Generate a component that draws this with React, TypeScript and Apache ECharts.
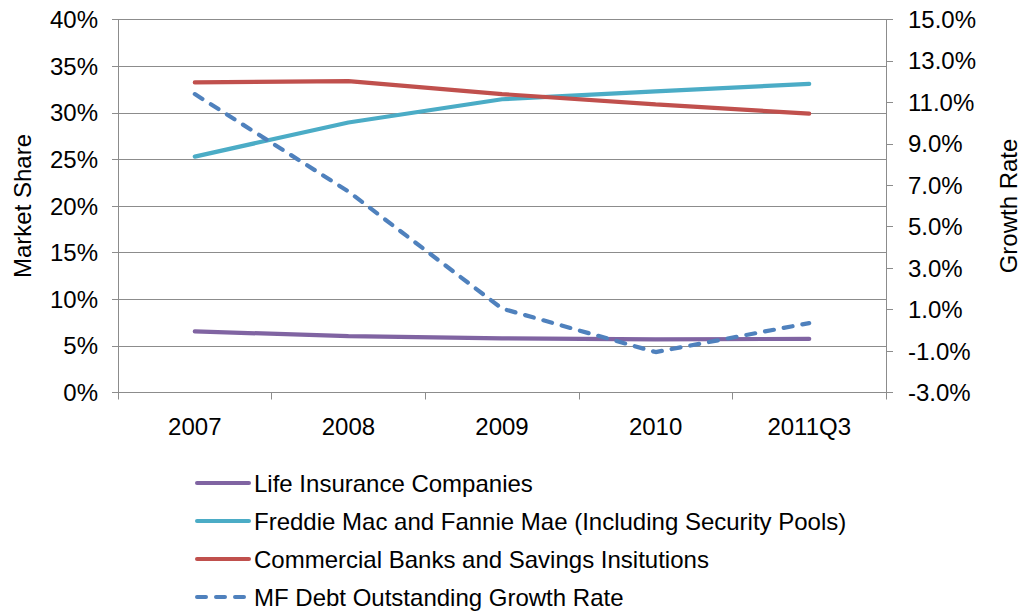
import React, { useEffect, useRef } from "react";
import * as echarts from "echarts";

const categories = ["2007", "2008", "2009", "2010", "2011Q3"];
const lifeInsurance = [6.55, 6.05, 5.8, 5.7, 5.75];
const freddieFannie = [25.3, 28.95, 31.45, 32.3, 33.1];
const commercialBanks = [33.25, 33.4, 32.0, 30.9, 29.9];
const growthRate = [11.4, 6.7, 1.05, -1.05, 0.35];

const seriesNames = [
  "Life Insurance Companies",
  "Freddie Mac and Fannie Mae (Including Security Pools)",
  "Commercial Banks and Savings Insitutions",
  "MF Debt Outstanding Growth Rate",
];
const colors = ["#8064A2", "#4BACC6", "#C0504D", "#4F81BD"];

const FONT = "'Liberation Sans', Arial, sans-serif";
const GRID_COLOR = "#8C8C8C";
const FS = 24;

export default function App() {
  const ref = useRef<HTMLDivElement>(null);
  useEffect(() => {
    if (!ref.current) return;
    const chart = echarts.init(ref.current, undefined, { renderer: "svg" });
    const lineSeries = (i: number, data: number[], yAxisIndex: number, dashed = false) => ({
      name: seriesNames[i],
      type: "line",
      data,
      yAxisIndex,
      symbol: "none",
      smooth: false,
      lineStyle: {
        color: colors[i],
        width: 4.2,
        type: dashed ? [9, 10] : "solid",
        cap: "round",
      },
      itemStyle: { color: colors[i] },
    });
    chart.setOption({
      animation: false,
      textStyle: { fontFamily: FONT, color: "#000" },
      grid: { left: 118, right: 135, top: 19.5, bottom: 218.5 },
      xAxis: {
        type: "category",
        data: categories,
        boundaryGap: true,
        axisLine: { lineStyle: { color: GRID_COLOR, width: 1 } },
        axisTick: { show: true, length: 7, inside: false, lineStyle: { color: GRID_COLOR } },
        axisLabel: { fontSize: FS, color: "#000", margin: 22, fontFamily: FONT },
      },
      yAxis: [
        {
          type: "value",
          min: 0,
          max: 40,
          interval: 5,
          name: "Market Share",
          nameLocation: "middle",
          nameRotate: 90,
          nameGap: 84,
          nameTextStyle: { fontSize: FS, color: "#000", fontFamily: FONT },
          axisLine: { show: true, lineStyle: { color: GRID_COLOR, width: 1 } },
          axisTick: { show: true, length: 6, lineStyle: { color: GRID_COLOR } },
          axisLabel: {
            fontSize: FS,
            color: "#000",
            margin: 20,
            fontFamily: FONT,
            formatter: (v: number) => v + "%",
          },
          splitLine: { show: true, lineStyle: { color: GRID_COLOR, width: 1 } },
        },
        {
          type: "value",
          min: -3,
          max: 15,
          interval: 2,
          position: "right",
          name: "Growth Rate",
          nameLocation: "middle",
          nameRotate: 90,
          nameGap: 110,
          nameTextStyle: { fontSize: FS, color: "#000", fontFamily: FONT },
          axisLine: { show: true, lineStyle: { color: GRID_COLOR, width: 1 } },
          axisTick: { show: true, length: 7, lineStyle: { color: GRID_COLOR } },
          axisLabel: {
            fontSize: FS,
            color: "#000",
            margin: 22,
            fontFamily: FONT,
            formatter: (v: number) => v.toFixed(1) + "%",
          },
          splitLine: { show: false },
        },
      ],
      legend: {
        orient: "vertical",
        left: 195,
        top: 471,
        padding: 0,
        itemWidth: 52,
        itemHeight: 14,
        itemGap: 14,
        itemStyle: { opacity: 0 },
        lineStyle: { width: 4 },
        textStyle: { fontSize: FS, color: "#000", fontFamily: FONT },
        data: seriesNames,
      },
      series: [
        lineSeries(0, lifeInsurance, 0),
        lineSeries(1, freddieFannie, 0),
        lineSeries(2, commercialBanks, 0),
        lineSeries(3, growthRate, 1, true),
      ],
    });
    return () => chart.dispose();
  }, []);
  return <div ref={ref} style={{ width: 1028, height: 611, position: "absolute", left: 0, top: 0 }} />;
}
